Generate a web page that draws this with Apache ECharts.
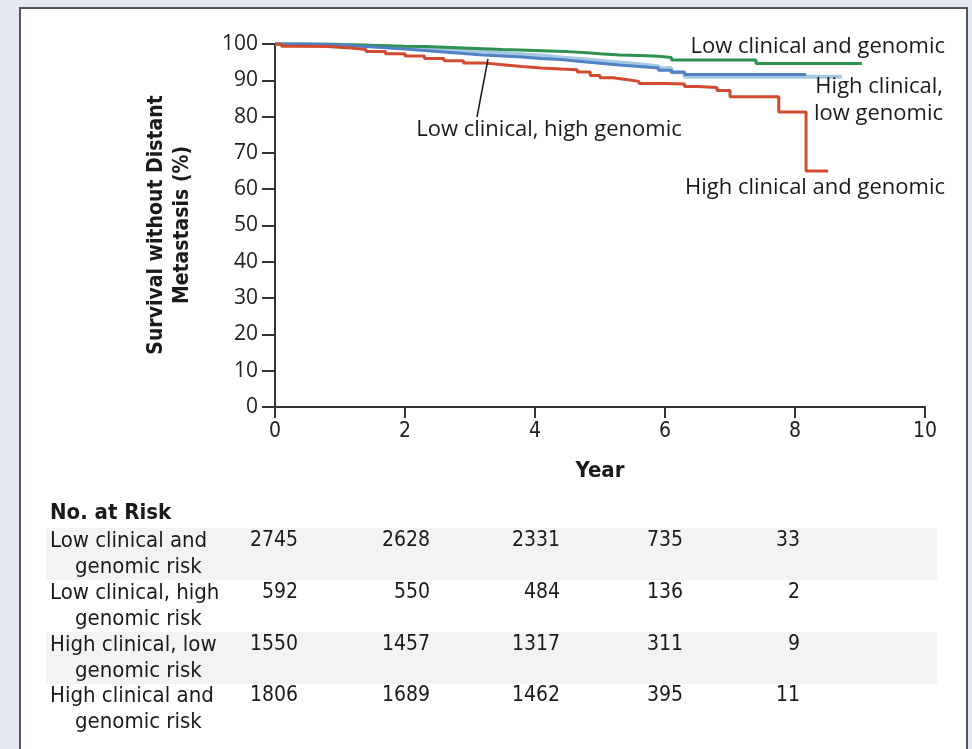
<!DOCTYPE html>
<html>
<head>
<meta charset="utf-8">
<script src="https://cdn.jsdelivr.net/npm/echarts@6/dist/echarts.min.js"></script>
<style>
  html, body { margin: 0; padding: 0; background: #e4e8f3; }
  #chart { width: 972px; height: 749px; }
</style>
</head>
<body>
<div id="chart"></div>
<script>
// Kaplan-Meier curves (year, % free of distant metastasis)
const lowLowYears = [0, 0.3, 0.7, 1.0, 1.3, 1.6, 2.0, 2.3, 2.6, 2.9, 3.2, 3.5, 3.9, 4.2, 4.5, 4.8, 5.0, 5.3, 5.6, 5.9, 6.1, 7.4, 9.03]
const lowLowSurv = [100, 99.9, 99.8, 99.7, 99.6, 99.4, 99.3, 99.1, 98.9, 98.7, 98.5, 98.3, 98.1, 97.9, 97.6, 97.3, 97.0, 96.8, 96.6, 96.3, 95.6, 94.6, 94.6]

const lowHighYears = [0, 0.4, 0.8, 1.1, 1.4, 1.7, 2.0, 2.3, 2.6, 2.9, 3.2, 3.5, 3.8, 4.1, 4.4, 4.7, 5.0, 5.3, 5.6, 5.9, 6.1, 6.3, 8.17]
const lowHighSurv = [100, 99.8, 99.6, 99.3, 99.0, 98.6, 98.2, 97.8, 97.4, 97.0, 96.7, 96.4, 96.0, 95.7, 95.2, 94.7, 94.2, 93.8, 93.4, 92.8, 92.2, 91.6, 91.6]

const highLowYears = [0, 0.5, 0.8, 1.1, 1.4, 1.7, 2.0, 2.3, 2.6, 2.9, 3.2, 3.5, 3.8, 4.1, 4.4, 4.7, 5.0, 5.3, 5.6, 5.9, 6.1, 6.3, 8.72]
const highLowSurv = [100, 99.9, 99.7, 99.5, 99.2, 99.0, 98.7, 98.4, 98.2, 97.9, 97.5, 97.2, 96.8, 96.3, 95.9, 95.4, 94.9, 94.4, 93.9, 93.3, 92.2, 91.0, 91.0]

const highHighYears = [0, 0.1, 0.4, 0.8, 1.1, 1.4, 1.7, 2.0, 2.3, 2.6, 2.9, 3.2, 3.5, 3.8, 4.1, 4.4, 4.65, 4.85, 5.0, 5.2, 5.4, 5.6, 6.0, 6.3, 6.5, 6.8, 7.0, 7.75, 8.17, 8.51]
const highHighSurv = [100, 99.4, 99.3, 99.0, 98.5, 97.9, 97.3, 96.7, 96.0, 95.4, 94.8, 94.3, 93.8, 93.4, 93.1, 92.9, 92.3, 91.3, 90.7, 90.2, 89.7, 89.1, 89.0, 88.3, 88.0, 87.2, 85.5, 81.3, 65.0, 65.0]

// number at risk table
const riskLabels = [
  ['Low clinical and', 'genomic risk'],
  ['Low clinical, high', 'genomic risk'],
  ['High clinical, low', 'genomic risk'],
  ['High clinical and', 'genomic risk']
]
const riskLowLow = [2745, 2628, 2331, 735, 33]
const riskLowHigh = [592, 550, 484, 136, 2]
const riskHighLow = [1550, 1457, 1317, 311, 9]
const riskHighHigh = [1806, 1689, 1462, 395, 11]

const xTicks = [0, 2, 4, 6, 8, 10]

const labelFont = '"Open Sans", sans-serif'
const narrowFont = '"Liberation Sans Narrow", "DejaVu Sans Condensed", sans-serif'

function pairs(xs, ys) {
  return xs.map((x, i) => [x, ys[i]])
}

function kmSeries(name, xs, ys, color, width, z) {
  return {
    name,
    type: 'line',
    step: 'end',
    data: pairs(xs, ys),
    showSymbol: false,
    z,
    lineStyle: { color, width },
    animation: false
  }
}

const chart = echarts.init(document.getElementById('chart'), null, { renderer: 'canvas' })

// table graphics
const tableGraphics = []
tableGraphics.push({
  type: 'text', left: 50, top: 502, z: 5,
  style: { text: 'No. at Risk', font: 'bold 22px ' + narrowFont, fill: '#1a1a1a' }
})
const rowTops = [528, 580, 632, 683]
const colRights = [298, 430, 560, 683, 800]
const riskRows = [riskLowLow, riskLowHigh, riskHighLow, riskHighHigh]
rowTops.forEach((top, r) => {
  if (r % 2 === 0) {
    tableGraphics.push({
      type: 'rect', z: -5,
      shape: { x: 46, y: top, width: 891, height: 52 },
      style: { fill: '#f3f3f3' }
    })
  }
  tableGraphics.push({
    type: 'text', x: 50, y: top + 13, z: 5,
    style: { text: riskLabels[r][0], font: '22px ' + narrowFont, fill: '#1a1a1a', textVerticalAlign: 'middle' }
  })
  tableGraphics.push({
    type: 'text', x: 75, y: top + 39, z: 5,
    style: { text: riskLabels[r][1], font: '22px ' + narrowFont, fill: '#1a1a1a', textVerticalAlign: 'middle' }
  })
  riskRows[r].forEach((v, c) => {
    tableGraphics.push({
      type: 'text', x: colRights[c], y: top + 13, z: 5,
      style: { text: String(v), font: '21px ' + narrowFont, fill: '#1a1a1a', textAlign: 'right', textVerticalAlign: 'middle' }
    })
  })
})

chart.setOption({
  animation: false,
  backgroundColor: 'transparent',
  grid: { left: 275, right: 47, top: 44, bottom: 342 },
  xAxis: {
    type: 'value',
    min: 0,
    max: 10,
    interval: 2,
    axisLine: { show: true, onZero: false, lineStyle: { color: '#333', width: 2 } },
    axisTick: { show: true, length: 11, lineStyle: { color: '#333', width: 2 } },
    axisLabel: { margin: 14, fontFamily: narrowFont, fontSize: 21, color: '#222',
      formatter: v => xTicks.includes(v) ? String(v) : '' },
    splitLine: { show: false }
  },
  yAxis: {
    type: 'value',
    min: 0,
    max: 100,
    interval: 10,
    axisLine: { show: true, lineStyle: { color: '#333', width: 2 } },
    axisTick: { show: true, length: 13, lineStyle: { color: '#333', width: 2 } },
    axisLabel: { margin: 17, fontFamily: labelFont, fontSize: 21, color: '#222' },
    splitLine: { show: false }
  },
  series: [
    kmSeries('Low clinical and genomic', lowLowYears, lowLowSurv, '#2f9150', 3, 4),
    kmSeries('High clinical, low genomic', highLowYears, highLowSurv, '#a6c8e3', 4, 3),
    kmSeries('Low clinical, high genomic', lowHighYears, lowHighSurv, '#5180c4', 3, 5),
    kmSeries('High clinical and genomic', highHighYears, highHighSurv, '#d24a30', 3, 6)
  ],
  graphic: [
    {
      type: 'rect', z: -10,
      shape: { x: 20, y: 8, width: 947, height: 760 },
      style: { fill: '#ffffff', stroke: '#555', lineWidth: 2 }
    },
    {
      type: 'text', x: 170, y: 225, rotation: Math.PI / 2, z: 5,
      style: {
        text: 'Survival without Distant\nMetastasis (%)',
        font: 'bold 21px ' + narrowFont, fill: '#1a1a1a',
        textAlign: 'center', textVerticalAlign: 'middle', lineHeight: 26
      }
    },
    {
      type: 'text', x: 600, y: 471, z: 5,
      style: { text: 'Year', font: 'bold 22px ' + narrowFont, fill: '#1a1a1a', textAlign: 'center', textVerticalAlign: 'middle' }
    },
    {
      type: 'text', x: 945, y: 47, z: 5,
      style: { text: 'Low clinical and genomic', font: '22px ' + labelFont, fill: '#1a1a1a', textAlign: 'right', textVerticalAlign: 'middle' }
    },
    {
      type: 'text', x: 943, y: 87, z: 5,
      style: { text: 'High clinical,', font: '22px ' + labelFont, fill: '#1a1a1a', textAlign: 'right', textVerticalAlign: 'middle' }
    },
    {
      type: 'text', x: 943, y: 114, z: 5,
      style: { text: 'low genomic', font: '22px ' + labelFont, fill: '#1a1a1a', textAlign: 'right', textVerticalAlign: 'middle' }
    },
    {
      type: 'text', x: 945, y: 188, z: 5,
      style: { text: 'High clinical and genomic', font: '22px ' + labelFont, fill: '#1a1a1a', textAlign: 'right', textVerticalAlign: 'middle' }
    },
    {
      type: 'text', x: 549, y: 130, z: 5,
      style: { text: 'Low clinical, high genomic', font: '22px ' + labelFont, fill: '#1a1a1a', textAlign: 'center', textVerticalAlign: 'middle' }
    },
    {
      type: 'line', z: 7,
      shape: { x1: 488, y1: 59, x2: 477, y2: 117 },
      style: { stroke: '#1a1a1a', lineWidth: 1.5 }
    },
    ...tableGraphics
  ]
})
</script>
</body>
</html>
